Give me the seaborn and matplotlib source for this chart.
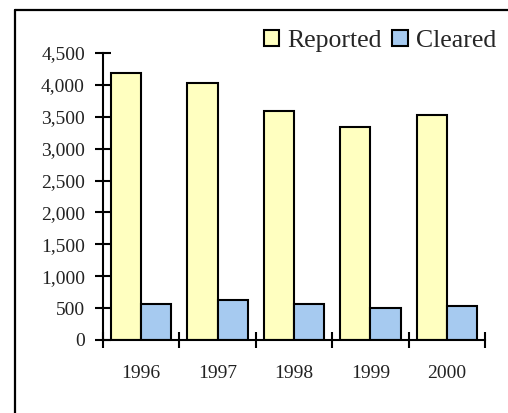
import pandas as pd
import numpy as np
import matplotlib.pyplot as plt
import seaborn as sns
from matplotlib.lines import Line2D
from matplotlib.ticker import FuncFormatter, FixedLocator

# Data
years = ['1996', '1997', '1998', '1999', '2000']
reported = [4190, 4030, 3590, 3340, 3530]
cleared = [570, 630, 565, 505, 535]
series = ['Reported', 'Cleared']
colors = ['#FFFFC0', '#A6CAF0']

df = pd.DataFrame({
    'Year': years * 2,
    'Count': reported + cleared,
    'Series': [series[0]] * len(years) + [series[1]] * len(years),
})

sns.set_theme(style='white')
plt.rcParams['font.family'] = ['Liberation Serif', 'DejaVu Serif']

fig = plt.figure(figsize=(5.08, 4.13), dpi=100)
ax = fig.add_axes([103 / 508, 73 / 413, 382 / 508, 287 / 413])

sns.barplot(data=df, x='Year', y='Count', hue='Series', palette=colors,
            width=0.79, edgecolor='black', linewidth=1.5, saturation=1,
            ax=ax)

ax.set_ylim(0, 4500)
ax.set_xlim(-0.5, len(years) - 0.5)
ax.set_yticks(np.arange(0, 4501, 500))
ax.yaxis.set_major_formatter(FuncFormatter(lambda v, p: f'{int(v):,}'))
ax.xaxis.set_minor_locator(FixedLocator(np.arange(-0.5, len(years), 1.0)))
ax.tick_params(axis='x', which='major', length=0, pad=18, labelsize=14, colors='#222222')
ax.tick_params(axis='x', which='minor', direction='inout', length=11, width=1.5, color='black', bottom=True)
ax.tick_params(axis='y', direction='inout', length=11, width=1.5, color='black', pad=7.5,
               labelsize=14, labelcolor='#222222', left=True)
ax.set_xlabel('')
ax.set_ylabel('')
sns.despine(ax=ax)
for s in ['left', 'bottom']:
    ax.spines[s].set_linewidth(1.5)
    ax.spines[s].set_color('black')

ax.legend_.remove()
handles = [plt.Rectangle((0, 0), 1, 1, facecolor=c, edgecolor='black', linewidth=1.5) for c in colors]
fig.legend(handles, series, loc='center', bbox_to_anchor=(380 / 508, 1 - 41 / 413),
           ncol=2, frameon=False, fontsize=18.5, handlelength=0.6, handleheight=0.6,
           handletextpad=0.32, columnspacing=0.4, borderpad=0)

# outer chart frame (top and left edges only are visible)
fig.add_artist(Line2D([15 / 508, 15 / 508], [0, 1 - 10 / 413], color='black', lw=1.6,
                      transform=fig.transFigure))
fig.add_artist(Line2D([15 / 508, 1], [1 - 10 / 413, 1 - 10 / 413], color='black', lw=1.6,
                      transform=fig.transFigure))

plt.savefig('out.png', dpi=100)
